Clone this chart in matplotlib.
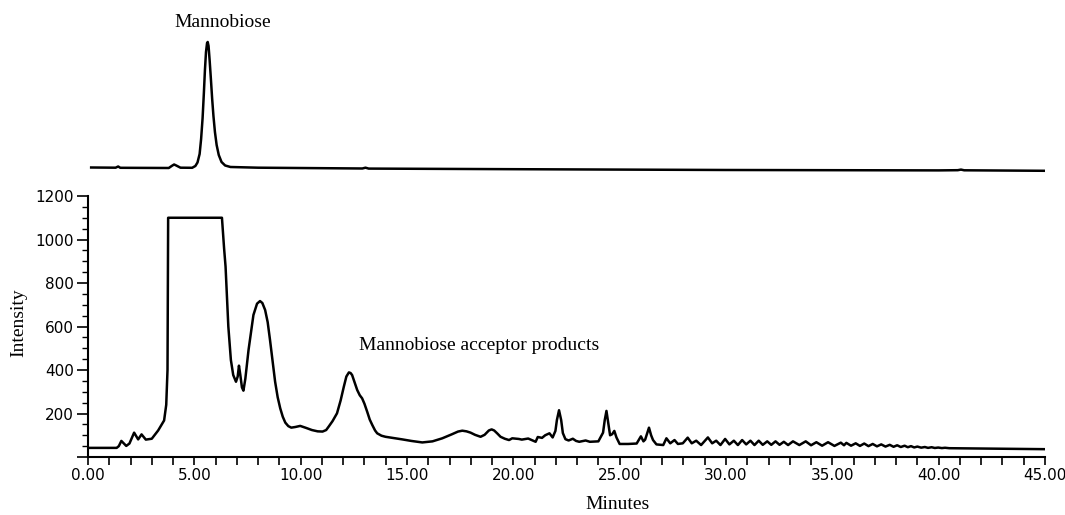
#Import Libraries
import matplotlib
matplotlib.use("Agg")
import matplotlib.pyplot as plt
from matplotlib.ticker import MultipleLocator, FuncFormatter

#Mannobiose standard (upper trace, relative response)
std_time = [0.15, 1.30, 1.42, 1.52, 3.80, 3.95, 4.05, 4.15, 4.35, 4.90, 5.05, 5.15,
            5.25, 5.32, 5.39, 5.45, 5.50, 5.55, 5.60, 5.63, 5.67, 5.72, 5.78, 5.84,
            5.90, 5.97, 6.05, 6.15, 6.28, 6.45, 6.70, 8.00, 12.90, 13.05, 13.20,
            20.00, 30.00, 40.00, 40.90, 41.05, 41.20, 45.00]
std_signal = [0.5, 0.3, 1.5, 0.2, 0.0, 2.2, 3.5, 2.5, 0.3, 0.2, 2.0, 5.5,
              14, 29, 50, 75, 98, 116, 125, 126, 122, 108, 89, 69,
              52, 36, 23, 13, 6.0, 2.5, 1.0, 0.3, -0.5, 0.3, -0.6,
              -1.2, -2.0, -2.4, -2.2, -1.6, -2.3, -2.8]

#Acceptor reaction (lower trace)
rxn_time = [0.00, 1.35, 1.45, 1.57, 1.80, 1.95, 2.17, 2.36, 2.52, 2.72, 3.00, 3.30,
            3.58, 3.68, 3.74, 3.77, 6.30, 6.40, 6.47, 6.60, 6.72, 6.83, 6.96, 7.04,
            7.10, 7.16, 7.24, 7.31, 7.40, 7.55, 7.78, 7.95, 8.09, 8.20, 8.33, 8.45,
            8.56, 8.68, 8.80, 8.92, 9.04, 9.16, 9.28, 9.42, 9.56, 9.75, 9.98, 10.25,
            10.53, 10.80, 11.03, 11.20, 11.32, 11.50, 11.71, 11.88, 12.03, 12.15, 12.27, 12.35,
            12.42, 12.55, 12.66, 12.78, 12.89, 13.00, 13.13, 13.25, 13.37, 13.50, 13.60, 13.80,
            13.99, 14.40, 14.78, 15.20, 15.72, 16.20, 16.66, 17.10, 17.40, 17.60, 17.80, 17.99,
            18.20, 18.46, 18.65, 18.85, 18.98, 19.10, 19.25, 19.40, 19.60, 19.80, 19.95, 20.26,
            20.40, 20.70, 21.05, 21.15, 21.35, 21.50, 21.70, 21.85, 21.98, 22.05, 22.15, 22.25,
            22.33, 22.45, 22.60, 22.80, 22.95, 23.10, 23.40, 23.60, 24.00, 24.15, 24.22, 24.30,
            24.38, 24.46, 24.55, 24.65, 24.75, 24.85, 25.00, 25.40, 25.80, 26.00, 26.12, 26.20,
            26.38, 26.48, 26.57, 26.73, 27.05, 27.20, 27.38, 27.58, 27.74, 27.97, 28.20, 28.39,
            28.60, 28.83, 29.15, 29.35, 29.54, 29.74, 29.96, 30.16, 30.37, 30.56, 30.76, 30.95,
            31.15, 31.34, 31.54, 31.73, 31.94, 32.13, 32.33, 32.52, 32.72, 32.92, 33.15, 33.45,
            33.75, 34.00, 34.25, 34.52, 34.80, 35.10, 35.40, 35.55, 35.66, 35.88, 36.10, 36.30,
            36.50, 36.70, 36.90, 37.10, 37.30, 37.50, 37.70, 37.88, 38.05, 38.22, 38.40, 38.55,
            38.70, 38.85, 39.00, 39.18, 39.35, 39.50, 39.67, 39.82, 39.98, 40.15, 40.30, 40.50,
            42.00, 45.00]
rxn_intensity = [42, 42, 50, 74, 51, 62, 112, 81, 104, 80, 84, 122,
                 168, 240, 400, 1100, 1100, 960, 875, 600, 446, 377, 346, 370,
                 420, 380, 320, 305, 360, 492, 653, 705, 717, 708, 676, 620,
                 538, 440, 346, 275, 224, 185, 158, 142, 135, 138, 143, 134,
                 124, 118, 117, 124, 140, 165, 201, 260, 323, 370, 389, 386,
                 377, 340, 308, 284, 270, 245, 208, 172, 147, 122, 109, 98,
                 93, 87, 81, 74, 67, 72, 86, 104, 117, 121, 118, 112,
                 102, 93, 102, 122, 127, 122, 108, 93, 84, 78, 86, 83,
                 80, 85, 70, 92, 88, 100, 109, 90, 120, 170, 215, 170,
                 110, 82, 76, 84, 74, 70, 76, 70, 72, 100, 112, 170,
                 212, 160, 100, 105, 120, 90, 60, 60, 62, 95, 72, 80,
                 135, 100, 78, 58, 55, 86, 63, 78, 60, 63, 89, 63,
                 75, 55, 90, 63, 75, 55, 83, 58, 75, 55, 78, 58,
                 75, 55, 75, 56, 72, 56, 72, 56, 70, 55, 72, 55,
                 72, 54, 68, 52, 68, 51, 66, 54, 65, 52, 63, 51,
                 62, 50, 60, 49, 58, 48, 56, 47, 54, 46, 52, 45,
                 50, 44, 48, 43, 46, 42, 45, 41.5, 43.5, 41, 42.5, 40.5,
                 39, 36]

x_ticks = [0, 5, 10, 15, 20, 25, 30, 35, 40, 45]

plt.rcParams['font.family'] = ['DejaVu Sans']
serif = ['Liberation Serif', 'DejaVu Serif']

fig = plt.figure(figsize=(10.65, 5.15), dpi=100)

#upper panel: standard trace only, no axes
ax_top = fig.add_axes([0.0826, 0.6505, 0.8986, 0.2913])
ax_top.plot(std_time, std_signal, color='black', linewidth=1.8)
ax_top.set_xlim(0, 45)
ax_top.set_ylim(-12, 138)
ax_top.axis('off')
ax_top.text(6.35, 145, "Mannobiose", ha='center', va='center',
            fontsize=14, family=serif)

#lower panel: reaction chromatogram
ax = fig.add_axes([0.0826, 0.1126, 0.8986, 0.5068])
ax.plot(rxn_time, rxn_intensity, color='black', linewidth=1.8)
ax.set_xlim(0, 45)
ax.set_ylim(0, 1200)
for side in ['top', 'right']:
    ax.spines[side].set_visible(False)
for side in ['bottom', 'left']:
    ax.spines[side].set_linewidth(1.5)

ax.set_xticks(x_ticks)
ax.xaxis.set_minor_locator(MultipleLocator(1))
ax.xaxis.set_major_formatter(FuncFormatter(lambda v, p: "%.2f" % v))
ax.yaxis.set_major_locator(MultipleLocator(200))
ax.yaxis.set_minor_locator(MultipleLocator(50))
ax.yaxis.set_major_formatter(FuncFormatter(lambda v, p: "" if v == 0 else "%d" % v))

ax.tick_params(axis='x', which='both', direction='out', length=6, width=1.2,
               labelsize=11, pad=2)
ax.tick_params(axis='y', which='major', direction='out', length=8, width=1.2,
               labelsize=11, pad=2)
ax.tick_params(axis='y', which='minor', direction='out', length=4, width=1.0)

ax.set_xlabel("Minutes", fontsize=14, family=serif)
ax.xaxis.set_label_coords(0.553, -0.15)
ax.set_ylabel("Intensity", fontsize=14, family=serif)
ax.yaxis.set_label_coords(-0.063, 0.513)

ax.text(18.38, 512, "Mannobiose acceptor products", ha='center', va='center',
        fontsize=14, family=serif)

fig.savefig("out.png", dpi=100)
